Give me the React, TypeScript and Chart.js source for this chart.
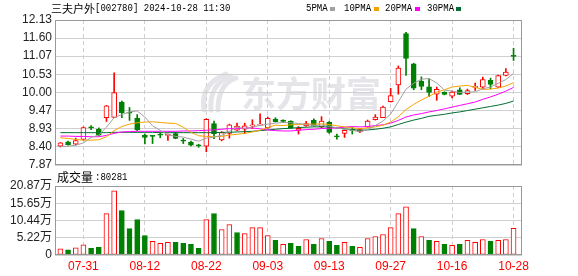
import React, { useEffect, useRef } from "react";
import { Chart, registerables } from "chart.js";

Chart.register(...registerables);

// ---------- data ----------
const titleName = "三夫户外";
const titleCode = "[002780] 2024-10-28 11:30";
const volumeName = "成交量";
const volumeLast = ":80281";

const dates = [
  "07-26", "07-29", "07-30", "07-31", "08-01", "08-02", "08-05", "08-06", "08-07", "08-08",
  "08-09", "08-12", "08-13", "08-14", "08-15", "08-16", "08-19", "08-20", "08-21", "08-22",
  "08-23", "08-26", "08-27", "08-28", "08-29", "08-30", "09-02", "09-03", "09-04", "09-05",
  "09-06", "09-09", "09-10", "09-11", "09-12", "09-13", "09-18", "09-19", "09-20", "09-23",
  "09-24", "09-25", "09-26", "09-27", "09-30", "10-08", "10-09", "10-10", "10-11", "10-14",
  "10-15", "10-16", "10-17", "10-18", "10-21", "10-22", "10-23", "10-24", "10-25", "10-28",
];
const dateTickIdx = [3, 11, 19, 27, 35, 43, 51, 59];

const opens = [
  8.42, 8.55, 8.48, 8.62, 8.97, 8.92, 9.26, 9.27, 9.72, 9.42,
  9.24, 8.75, 8.73, 8.76, 8.74, 8.79, 8.60, 8.54, 8.44, 8.42,
  9.09, 8.61, 8.80, 8.89, 8.92, 9.02, 9.04, 8.97, 9.22, 9.19,
  9.16, 8.89, 9.02, 9.19, 8.99, 9.12, 8.73, 8.80, 8.90, 8.85,
  8.99, 9.20, 9.26, 9.73, 10.22, 11.73, 10.84, 10.33, 10.17, 9.95,
  10.01, 9.89, 10.08, 9.965, 10.15, 10.16, 10.36, 10.16, 10.50, 11.08,
];
const highs = [
  8.53, 8.57, 8.66, 8.99, 9.03, 8.96, 9.62, 10.58, 9.75, 9.56,
  9.35, 8.78, 8.74, 8.82, 8.78, 8.83, 8.65, 8.57, 8.48, 9.23,
  9.16, 8.85, 9.07, 9.10, 9.10, 9.20, 9.37, 9.28, 9.26, 9.20,
  9.17, 9.00, 9.15, 9.23, 9.29, 9.15, 8.78, 8.90, 8.97, 8.93,
  9.19, 9.35, 9.60, 10.12, 10.78, 11.77, 10.86, 10.46, 10.40, 10.16,
  10.02, 10.04, 10.14, 10.10, 10.28, 10.45, 10.42, 10.51, 10.70, 11.30,
];
const lows = [
  8.40, 8.45, 8.46, 8.60, 8.91, 8.73, 9.15, 9.26, 9.26, 9.18,
  8.88, 8.49, 8.50, 8.67, 8.59, 8.64, 8.50, 8.43, 8.39, 8.26,
  8.64, 8.58, 8.66, 8.88, 8.79, 8.94, 9.03, 8.95, 9.13, 9.12,
  8.95, 8.78, 9.00, 9.01, 8.96, 8.80, 8.63, 8.68, 8.78, 8.82,
  8.98, 9.19, 9.26, 9.72, 9.95, 10.50, 10.08, 10.08, 9.88, 9.77,
  9.93, 9.84, 9.94, 9.94, 10.06, 10.11, 10.11, 10.15, 10.49, 10.94,
];
const closes = [
  8.52, 8.47, 8.59, 8.97, 8.96, 8.75, 9.61, 10.00, 9.41, 9.39,
  8.90, 8.68, 8.71, 8.745, 8.75, 8.65, 8.57, 8.45, 8.43, 9.21,
  8.79, 8.82, 9.05, 9.01, 9.02, 9.03, 9.06, 9.24, 9.14, 9.15,
  8.96, 8.95, 9.09, 9.02, 9.16, 8.83, 8.70, 8.89, 8.885, 8.91,
  9.16, 9.28, 9.575, 9.91, 10.72, 11.00, 10.13, 10.18, 10.00, 10.09,
  9.94, 10.01, 9.945, 10.06, 10.16, 10.38, 10.24, 10.50, 10.60, 11.06,
];
// volume in 万 (10k shares)
const volumes = [
  1.9, 1.6, 2.2, 3.1, 2.0, 2.3, 12.5, 19.4, 13.4, 8.0,
  10.7, 5.9, 4.1, 3.5, 3.8, 3.8, 3.5, 3.2, 2.0, 10.7,
  12.5, 7.7, 9.2, 6.8, 6.5, 8.3, 8.3, 5.9, 4.4, 3.2,
  3.5, 2.6, 4.7, 3.2, 5.0, 4.1, 2.9, 3.8, 2.6, 2.3,
  5.0, 5.6, 6.2, 8.3, 12.5, 14.6, 8.0, 5.6, 4.4, 4.1,
  3.2, 2.9, 3.2, 4.4, 3.8, 4.7, 4.1, 4.4, 4.7, 8.03,
];
const ma5 = [
  8.41, 8.42, 8.45, 8.52, 8.68, 8.75, 8.98, 9.26, 9.35, 9.43,
  9.46, 9.28, 9.02, 8.89, 8.76, 8.71, 8.69, 8.63, 8.57, 8.66,
  8.69, 8.74, 8.86, 8.98, 8.94, 8.99, 9.03, 9.07, 9.10, 9.12,
  9.11, 9.09, 9.06, 9.03, 9.04, 9.01, 8.96, 8.92, 8.89, 8.84,
  8.91, 9.03, 9.16, 9.37, 9.73, 10.10, 10.27, 10.39, 10.41, 10.28,
  10.07, 10.04, 10.00, 10.01, 10.02, 10.11, 10.16, 10.27, 10.38, 10.56,
];
const ma10 = [
  8.67, 8.65, 8.62, 8.60, 8.60, 8.61, 8.70, 8.88, 9.00, 9.07,
  9.11, 9.13, 9.14, 9.12, 9.10, 9.09, 8.98, 8.83, 8.73, 8.71,
  8.70, 8.71, 8.75, 8.77, 8.80, 8.84, 8.89, 8.97, 9.04, 9.03,
  9.05, 9.06, 9.07, 9.07, 9.08, 9.06, 9.02, 8.99, 8.96, 8.94,
  8.96, 8.99, 9.04, 9.13, 9.29, 9.50, 9.65, 9.78, 9.89, 10.01,
  10.08, 10.16, 10.19, 10.21, 10.15, 10.09, 10.10, 10.13, 10.19, 10.29,
];
const ma20 = [
  8.72, 8.72, 8.71, 8.71, 8.70, 8.70, 8.74, 8.80, 8.84, 8.85,
  8.86, 8.86, 8.86, 8.86, 8.86, 8.86, 8.87, 8.87, 8.88, 8.89,
  8.90, 8.92, 8.94, 8.94, 8.95, 8.96, 8.93, 8.90, 8.88, 8.87,
  8.87, 8.89, 8.91, 8.92, 8.94, 8.95, 8.96, 8.98, 9.00, 8.99,
  9.00, 9.03, 9.05, 9.10, 9.18, 9.28, 9.34, 9.38, 9.43, 9.47,
  9.52, 9.57, 9.62, 9.67, 9.72, 9.80, 9.87, 9.95, 10.04, 10.15,
];
const ma30 = [
  8.82, 8.82, 8.82, 8.82, 8.82, 8.82, 8.82, 8.83, 8.83, 8.83,
  8.83, 8.83, 8.83, 8.82, 8.82, 8.82, 8.82, 8.82, 8.82, 8.82,
  8.82, 8.83, 8.83, 8.84, 8.85, 8.86, 8.88, 8.90, 8.92, 8.94,
  8.95, 8.97, 8.98, 8.99, 8.99, 8.99, 8.96, 8.93, 8.91, 8.89,
  8.90, 8.92, 8.95, 8.99, 9.06, 9.13, 9.19, 9.24, 9.30, 9.33,
  9.36, 9.40, 9.43, 9.47, 9.51, 9.55, 9.59, 9.63, 9.68, 9.75,
];
const priceTicks = [7.87, 8.40, 8.93, 9.47, 10.00, 10.53, 11.07, 11.60, 12.13];
const priceTickLabels = ["7.87", "8.40", "8.93", "9.47", "10.00", "10.53", "11.07", "11.60", "12.13"];
const volTicks = [0, 5.22, 10.44, 15.65, 20.87];
const volTickLabels = ["0", "5.22万", "10.44万", "15.65万", "20.87万"];
const maNames = ["5PMA", "10PMA", "20PMA", "30PMA"];

// ---------- styles ----------
const RED = "#ff0000";
const GREEN = "#008000";
const MA_COLORS = ["#a0a0a0", "#f5a300", "#ff00ff", "#006e32"];
const FONT = "'Liberation Sans', 'Noto Sans CJK SC', sans-serif";
const W = 578;
const H = 276;

const boxPlugin = {
  id: "box",
  afterDraw(chart: any) {
    const { ctx, chartArea: a } = chart;
    ctx.save();
    ctx.strokeStyle = "#999999";
    ctx.lineWidth = 1;
    ctx.strokeRect(Math.round(a.left) + 0.5, Math.round(a.top) + 0.5, Math.round(a.right - a.left) - 1, Math.round(a.bottom - a.top) - 1);
    ctx.restore();
  },
};

const watermarkPlugin = {
  id: "watermark",
  beforeDraw(chart: any) {
    const { ctx } = chart;
    ctx.save();
    ctx.fillStyle = "#e4e4e9";
    ctx.strokeStyle = "#e4e4e9";
    // stylised logo swoosh
    ctx.lineWidth = 5;
    ctx.lineCap = "round";
    for (let k = 0; k < 3; k++) {
      ctx.beginPath();
      ctx.moveTo(204 + k * 7, 110);
      ctx.quadraticCurveTo(200 + k * 9, 84, 226 + k * 5, 74 + k * 2);
      ctx.stroke();
    }
    ctx.font = "bold 35px 'Noto Sans CJK SC', sans-serif";
    ctx.textBaseline = "middle";
    ctx.textAlign = "left";
    ctx.fillText("东方财富", 241, 94);
    ctx.restore();
  },
};

function xScale(showLabels: boolean) {
  return {
    type: "linear",
    min: -0.7,
    max: 60.1,
    offset: false,
    afterBuildTicks: (s: any) => {
      s.ticks = dateTickIdx.map((v) => ({ value: v }));
    },
    afterFit: (s: any) => {
      s.height = showLabels ? 21 : 0;
    },
    grid: { display: true, offset: false, color: "#cfcfcf", lineWidth: 1, drawTicks: false },
    border: { display: false, dash: [4, 3] },
    ticks: {
      display: showLabels,
      color: RED,
      padding: 4,
      autoSkip: false,
      maxRotation: 0,
      font: { size: 12, family: FONT },
      callback: (v: number) => dates[v] ?? "",
    },
  };
}

function yScale(min: number, max: number, ticks: number[], labels: string[]) {
  return {
    type: "linear",
    min,
    max,
    beginAtZero: false,
    afterBuildTicks: (s: any) => {
      s.ticks = ticks.map((v) => ({ value: v }));
    },
    afterFit: (s: any) => {
      s.width = 55;
    },
    grid: { color: "#d0d0d0", lineWidth: 1, drawTicks: false },
    border: { display: false },
    ticks: {
      color: "#222222",
      padding: 3,
      autoSkip: false,
      font: { size: 12, family: FONT },
      callback: (_v: number, i: number) => labels[i],
    },
  };
}

export default function App() {
  const priceRef = useRef<HTMLCanvasElement>(null);
  const volRef = useRef<HTMLCanvasElement>(null);

  useEffect(() => {
    document.body.style.margin = "0";
    Chart.defaults.font.family = FONT;
    const idx = dates.map((_, i) => i);
    const up = idx.map((i) => closes[i] >= opens[i]);
    const volUp = idx.map((i) => (i === 0 ? closes[0] >= opens[0] : closes[i] > closes[i - 1]));
    const mas = [ma5, ma10, ma20, ma30];

    const common = {
      animation: false,
      responsive: false,
      devicePixelRatio: 1,
      events: [],
      plugins: { legend: { display: false }, tooltip: { enabled: false } },
    };

    const price = new Chart(priceRef.current!, {
      type: "bar",
      data: {
        datasets: [
          ...mas.map((m, k) => ({
            type: "line",
            data: idx.map((i) => ({ x: i, y: m[i] })),
            borderColor: MA_COLORS[k],
            borderWidth: 1,
            pointRadius: 0,
            tension: 0,
            fill: false,
            order: 0,
          })),
          {
            type: "bar",
            data: idx.map((i) => ({ x: i, y: [opens[i], closes[i]] })),
            backgroundColor: idx.map((i) => (up[i] ? "#ffffff" : GREEN)),
            borderColor: idx.map((i) => (up[i] ? RED : GREEN)),
            borderWidth: 1,
            borderSkipped: false,
            barThickness: 5,
            minBarLength: 1,
            grouped: false,
            order: 1,
          },
          {
            type: "bar",
            data: idx.map((i) => ({ x: i, y: [lows[i], highs[i]] })),
            backgroundColor: idx.map((i) => (up[i] ? RED : GREEN)),
            borderWidth: 0,
            barThickness: 1,
            grouped: false,
            order: 2,
          },
        ],
      } as any,
      options: {
        ...common,
        layout: { padding: { left: 0, right: W - 522, top: 20, bottom: H - 165 } },
        scales: {
          x: xScale(false),
          y: yScale(7.87, 12.13, priceTicks, priceTickLabels),
        },
      } as any,
      plugins: [watermarkPlugin, boxPlugin],
    });

    const vol = new Chart(volRef.current!, {
      type: "bar",
      data: {
        datasets: [
          {
            data: idx.map((i) => ({ x: i, y: volumes[i] })),
            backgroundColor: idx.map((i) => (volUp[i] ? "#ffffff" : GREEN)),
            borderColor: idx.map((i) => (volUp[i] ? RED : GREEN)),
            borderWidth: 1,
            borderSkipped: false,
            barThickness: 5,
            grouped: false,
          },
        ],
      } as any,
      options: {
        ...common,
        layout: { padding: { left: 0, right: W - 522, top: 186, bottom: 0 } },
        scales: {
          x: xScale(true),
          y: yScale(0, 20.87, volTicks, volTickLabels),
        },
      } as any,
      plugins: [boxPlugin],
    });

    return () => {
      price.destroy();
      vol.destroy();
    };
  }, []);

  const mono: React.CSSProperties = {
    position: "absolute",
    fontFamily: "'Liberation Mono', monospace",
    fontSize: 11,
    lineHeight: "11px",
    color: "#000",
    whiteSpace: "nowrap",
    transform: "scaleX(0.82)",
    transformOrigin: "left center",
  };
  const cjk: React.CSSProperties = {
    position: "absolute",
    fontFamily: "'Noto Sans CJK SC', sans-serif",
    fontSize: 11,
    lineHeight: "11px",
    color: "#000",
    whiteSpace: "nowrap",
  };
  const legendText = [306, 344, 385, 427];
  const legendBox = [330, 374, 415, 456];

  return (
    <div style={{ position: "fixed", left: 0, top: 0, width: W, height: H, background: "#fff", overflow: "hidden" }}>
      <canvas ref={priceRef} width={W} height={H} style={{ position: "absolute", left: 0, top: 0 }} />
      <canvas ref={volRef} width={W} height={H} style={{ position: "absolute", left: 0, top: 0 }} />
      <span style={{ ...cjk, left: 51, top: 3 }}>{titleName}</span>
      <span style={{ ...mono, left: 95, top: 3 }}>{titleCode}</span>
      {maNames.map((n, k) => (
        <React.Fragment key={n}>
          <span style={{ ...mono, left: legendText[k], top: 3 }}>{n}</span>
          <span style={{ position: "absolute", left: legendBox[k], top: 7, width: 5, height: 4, background: MA_COLORS[k] }} />
        </React.Fragment>
      ))}
      <span style={{ ...cjk, fontSize: 12, lineHeight: "12px", left: 57, top: 171 }}>{volumeName}</span>
      <span style={{ ...mono, left: 95, top: 172 }}>{volumeLast}</span>
    </div>
  );
}
